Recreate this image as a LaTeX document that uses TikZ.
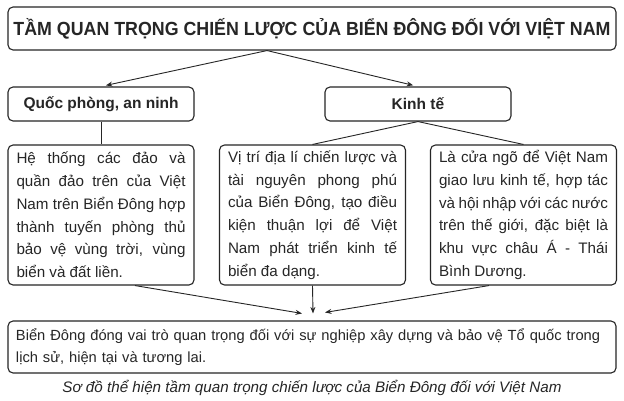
\documentclass[tikz,border=0pt]{standalone}
\usepackage{fontspec}
\setmainfont{Liberation Sans}
\usetikzlibrary{arrows.meta}
\definecolor{ink}{HTML}{262626}
\begin{document}
\begin{tikzpicture}[x=1pt,y=-1pt,
  box/.style={draw=ink, line width=1.1pt, rounded corners=5pt, text=ink},
  head/.style={box, minimum width=186pt, minimum height=34pt, inner sep=0pt,
    font=\fontsize{15.5}{18}\selectfont\bfseries},
  body/.style={box, text width=169pt, inner xsep=8.5pt, inner ysep=0pt,
    minimum height=140pt, align=justify,
    font=\fontsize{15.2}{22.8}\selectfont},
  ln/.style={draw=ink, line width=0.9pt},
  arr/.style={ln, -{Stealth[length=6.5pt,width=5pt]}}]
\useasboundingbox[fill=white] (0,0) rectangle (624,400);
\node[box, minimum width=608pt, minimum height=43pt, inner sep=0pt] (title) at (312,28.5)
  {\resizebox{597pt}{\height}{\fontsize{19}{19}\selectfont\bfseries TẦM QUAN TRỌNG CHIẾN LƯỢC CỦA BIỂN ĐÔNG ĐỐI VỚI VIỆT NAM}};
\node[head] (qp) at (101,104) {Quốc phòng, an ninh};
\node[head] (kt) at (418,104) {Kinh tế};
\node[body] (b1) at (101,215) {Hệ thống các đảo và\linebreak quần đảo trên của Việt\linebreak Nam trên Biển Đông hợp\linebreak thành tuyến phòng thủ\linebreak bảo vệ vùng trời, vùng\linebreak biển và đất liền.};
\node[body] (b2) at (312.5,215) {Vị trí địa lí chiến lược và\linebreak tài nguyên phong phú\linebreak của Biển Đông, tạo điều\linebreak kiện thuận lợi để Việt\linebreak Nam phát triển kinh tế\linebreak biển đa dạng.};
\node[body] (b3) at (523.5,215) {Là cửa ngõ để Việt Nam\linebreak giao lưu kinh tế, hợp tác\linebreak và hội nhập với các nước\linebreak trên thế giới, đặc biệt là\linebreak khu vực châu Á - Thái\linebreak Bình Dương.};
\node[box, text width=592pt, inner xsep=8pt, inner ysep=0pt, minimum height=52pt, align=left,
  font=\fontsize{14.7}{22}\selectfont] (bot) at (312,347)
  {Biển Đông đóng vai trò quan trọng đối với sự nghiệp xây dựng và bảo vệ Tổ quốc trong\\ lịch sử, hiện tại và tương lai.};
\node[text=ink, font=\fontsize{15.2}{17}\selectfont\itshape] (cap) at (312,388)
  {Sơ đồ thể hiện tầm quan trọng chiến lược của Biển Đông đối với Việt Nam};
\coordinate (apex) at ([xshift=-45pt]title.south);
\coordinate (s1) at ([xshift=34pt]b1.south);
\coordinate (s3) at ([xshift=-34.5pt]b3.south);
\coordinate (e1) at ([xshift=-10pt,yshift=7pt]bot.north);
\coordinate (e2) at ([xshift=1pt,yshift=7pt]bot.north);
\coordinate (e3) at ([xshift=13pt,yshift=8pt]bot.north);
\draw[arr, shorten >=5pt] (apex) -- (qp.north);
\draw[arr, shorten >=5pt] (apex) -- (kt.north);
\draw[ln] (qp.south) -- (b1.north);
\draw[ln] (kt.south) -- (b2.north);
\draw[ln] (kt.south) -- (b3.north);
\draw[arr] (s1) -- (e1);
\draw[arr] (b2.south) -- (e2);
\draw[arr] (s3) -- (e3);
\end{tikzpicture}
\end{document}
